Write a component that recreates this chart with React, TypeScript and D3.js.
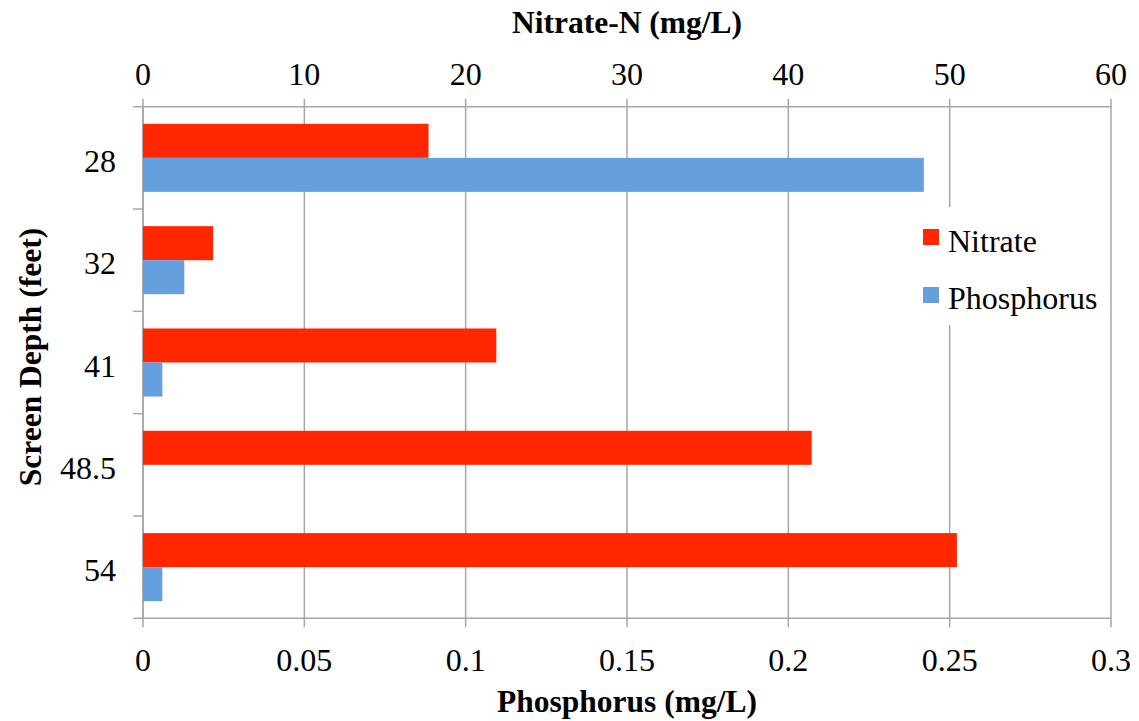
import React from "react";
import * as d3 from "d3";

// Screen depths (feet), top to bottom
const depths = ["28", "32", "41", "48.5", "54"];
// Nitrate-N concentration (mg/L), read on the top axis
const nitrate = [17.7, 4.35, 21.9, 41.45, 50.45];
// Phosphorus concentration (mg/L), read on the bottom axis
const phosphorus = [0.242, 0.0128, 0.006, 0, 0.006];

const nitrateTicks = [0, 10, 20, 30, 40, 50, 60];
const phosphorusTicks = [0, 0.05, 0.1, 0.15, 0.2, 0.25, 0.3];
const phosphorusTickLabels = ["0", "0.05", "0.1", "0.15", "0.2", "0.25", "0.3"];

const seriesNames = ["Nitrate", "Phosphorus"];
const seriesColors = ["#ff2600", "#659fdd"];

const W = 1139;
const H = 721;
const plot = { left: 143, right: 1111, top: 106.7, bottom: 618.3 };
const FONT = "'Liberation Serif', 'Times New Roman', serif";
const GRID = "#a6a6a6";
const FS = 32;
const textStyle = { fontFamily: FONT };

export default function App() {
  const xN = d3.scaleLinear().domain([0, 60]).range([plot.left, plot.right]);
  const xP = d3.scaleLinear().domain([0, 0.3]).range([plot.left, plot.right]);
  const y = d3
    .scaleBand<string>()
    .domain(depths)
    .range([plot.top, plot.bottom])
    .paddingInner(0.335)
    .paddingOuter(0.1675);
  const sub = d3.scaleBand<string>().domain(seriesNames).range([0, y.bandwidth()]);

  const step = y.step();
  const catBoundaries = d3.range(depths.length + 1).map((i) => plot.top + i * step);

  return (
    <svg
      width={W}
      height={H}
      style={{ position: "absolute", left: 0, top: 0, display: "block", background: "#fff", fontFamily: FONT }}
    >
      {/* vertical gridlines */}
      {nitrateTicks.map((t) => (
        <line
          key={"g" + t}
          x1={xN(t)}
          x2={xN(t)}
          y1={plot.top - 8}
          y2={plot.bottom + 9}
          stroke={GRID}
          strokeWidth={1.5}
        />
      ))}
      {/* top and bottom axis lines */}
      <line x1={plot.left} x2={plot.right} y1={plot.top} y2={plot.top} stroke={GRID} strokeWidth={1.5} />
      <line x1={plot.left} x2={plot.right} y1={plot.bottom} y2={plot.bottom} stroke={GRID} strokeWidth={1.5} />
      {/* category axis with ticks */}
      <line x1={plot.left} x2={plot.left} y1={plot.top} y2={plot.bottom} stroke={GRID} strokeWidth={1.5} />
      {catBoundaries.map((yy, i) => (
        <line key={"ct" + i} x1={plot.left - 10} x2={plot.left} y1={yy} y2={yy} stroke={GRID} strokeWidth={1.5} />
      ))}

      {/* bars */}
      {depths.map((d, i) => {
        const y0 = y(d)!;
        return (
          <g key={d}>
            <rect
              x={xN(0)}
              y={y0 + sub("Nitrate")!}
              width={xN(nitrate[i]) - xN(0)}
              height={sub.bandwidth()}
              fill={seriesColors[0]}
            />
            <rect
              x={xP(0)}
              y={y0 + sub("Phosphorus")!}
              width={xP(phosphorus[i]) - xP(0)}
              height={sub.bandwidth()}
              fill={seriesColors[1]}
            />
          </g>
        );
      })}

      {/* category labels */}
      {depths.map((d) => (
        <text
          key={"l" + d}
          x={116}
          y={y(d)! + y.bandwidth() / 2 + 14}
          textAnchor="end"
          fontSize={FS}
          fill="#000"
          style={textStyle}
        >
          {d}
        </text>
      ))}

      {/* top axis labels (Nitrate-N) */}
      {nitrateTicks.map((t) => (
        <text key={"tn" + t} x={xN(t)} y={85} textAnchor="middle" fontSize={FS} fill="#000" style={textStyle}>
          {t}
        </text>
      ))}
      {/* bottom axis labels (Phosphorus) */}
      {phosphorusTicks.map((t, i) => (
        <text key={"tp" + t} x={xP(t)} y={671} textAnchor="middle" fontSize={FS} fill="#000" style={textStyle}>
          {phosphorusTickLabels[i]}
        </text>
      ))}

      {/* axis titles */}
      <text x={627} y={33} textAnchor="middle" fontSize={31.5} fontWeight="bold" fill="#000" style={textStyle}>
        Nitrate-N (mg/L)
      </text>
      <text x={627} y={712} textAnchor="middle" fontSize={31.5} fontWeight="bold" fill="#000" style={textStyle}>
        Phosphorus (mg/L)
      </text>
      <text
        transform={`translate(41, 357) rotate(-90)`}
        textAnchor="middle"
        fontSize={31.5}
        fontWeight="bold"
        fill="#000"
        style={textStyle}
      >
        Screen Depth (feet)
      </text>

      {/* legend */}
      <rect x={912} y={207} width={190} height={118} fill="#fff" />
      {seriesNames.map((s, i) => (
        <g key={"lg" + s}>
          <rect x={923} y={229 + i * 58} width={16} height={16} fill={seriesColors[i]} />
          <text x={948} y={252 + i * 56.5} fontSize={FS} fill="#000" style={textStyle}>
            {s}
          </text>
        </g>
      ))}
    </svg>
  );
}
